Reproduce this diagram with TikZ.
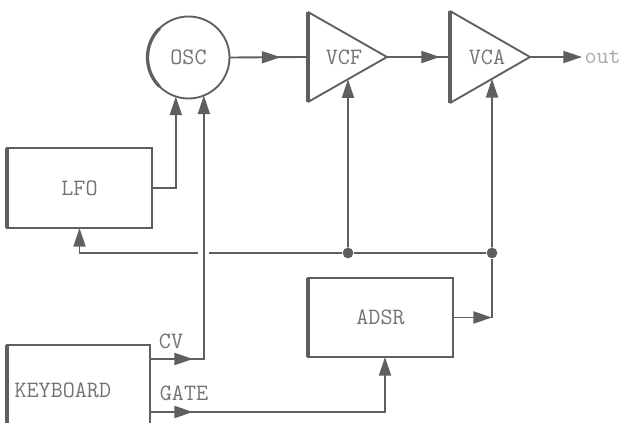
\documentclass[tikz,border=0pt]{standalone}
\usepackage{fontspec}
\usetikzlibrary{arrows.meta,positioning,calc,decorations.markings}
\definecolor{synline}{RGB}{95,95,95}
\definecolor{syntext}{RGB}{115,115,115}
\definecolor{synfaint}{RGB}{170,170,170}

\begin{document}
\begin{tikzpicture}[x=0.3mm,y=-0.3mm,
  wire/.style={draw=synline,line width=1.6pt},
  edge/.style={draw=synline,line width=3.6pt},
  arr/.style={wire,-{Triangle[length=5.6mm,width=3.6mm]}},
  midarr/.style={postaction={decorate},decoration={markings,
    mark=at position #1 with {\arrow[synline]{Triangle[length=5.6mm,width=3.6mm]}}}},
  lbl/.style={text=syntext,font=\ttfamily\fontsize{20}{23}\selectfont,inner sep=2pt},
  block/.style={wire,lbl,outer sep=0pt,minimum width=4.35cm,minimum height=2.4cm},
  circ/.style={wire,lbl,circle,outer sep=0pt,minimum size=2.46cm},
  dot/.style={circle,fill=synline,inner sep=0pt,minimum size=3.2mm}]
\useasboundingbox (0,0) rectangle (623,423);
\clip (0,0) rectangle (623,423);
% Blocks
\node[circ] (osc) at (188.5,57.5) {OSC};
\draw[synline,line width=2.8pt] (osc.135) arc[start angle=135,end angle=225,radius=1.23cm];
\node[block] (lfo) at (79.5,188) {LFO};
\draw[edge] (lfo.north west) -- (lfo.south west);
\node[block,minimum height=2.37cm] (adsr) at (380.5,317.5) {ADSR};
\draw[edge] (adsr.north west) -- (adsr.south west);
\node[block,minimum width=4.29cm,minimum height=3.15cm] (keys) at (78.5,397.5) {};
\draw[edge] (keys.north west) -- (keys.south west);
\node[lbl,anchor=west] (keytext) at (12,390) {KEYBOARD};
% Filter and amplifier
\coordinate (vcfA) at (308,12); \coordinate (vcfB) at (308,102); \coordinate (vcfT) at (387,57);
\draw[wire] (vcfA) -- (vcfT) -- (vcfB); \draw[edge] (vcfA) -- (vcfB);
\node[lbl] (vcf) at (344,57) {VCF};
\coordinate (vcaA) at (450,11); \coordinate (vcaB) at (450,103); \coordinate (vcaT) at (530,57);
\draw[wire] (vcaA) -- (vcaT) -- (vcaB); \draw[edge] (vcaA) -- (vcaB);
\node[lbl] (vca) at (487,57) {VCA};
\coordinate (vcfin) at ($(vcfA)!0.5!(vcfB)$);
\coordinate (vcain) at ($(vcaA)!0.5!(vcaB)$);
\coordinate (vcfctl) at ($(vcfB)!0.506!(vcfT)$);
\coordinate (vcactl) at ($(vcaB)!0.525!(vcaT)$);
\node[lbl,text=synfaint,anchor=west] (out) at (582,57) {out};
% Junctions
\node[dot] (j1) at (348,253) {};
\node[dot] (j2) at (492,253) {};
\coordinate (hopR) at (209,253);
\coordinate (hopL) at (198,253);
\coordinate (adsrout) at (j2 |- adsr.east);
\coordinate (cvout) at (keys.east |- 0,359);
\coordinate (gateout) at (keys.east |- 0,412);
% Audio path
\draw[wire,midarr=1.53cm] (osc.east) -- (vcfin);
\draw[wire,midarr=1.59cm] (vcfT) -- (vcain);
\draw[arr] (vcaT) -- (out.west);
% Control path
\draw[arr] (lfo.east) -| (osc.-108);
\draw[arr,midarr=1.29cm] (cvout) -| (osc.-68);
\draw[arr,midarr=1.29cm] (gateout) -| ([xshift=1.35mm]adsr.south);
\draw[arr] (adsr.east) -- (adsrout);
\draw[wire] (adsrout) -- (j2);
\draw[arr] (j2) -- (vcactl);
\draw[arr] (j1) -- (vcfctl);
\draw[wire] (j2) -- (j1) -- (hopR);
\draw[arr] (hopL) -| (lfo.south);
% Labels
\node[lbl] (cvlabel) at (171,341) {CV};
\node[lbl] (gatelabel) at (184,393) {GATE};
\end{tikzpicture}
\end{document}
